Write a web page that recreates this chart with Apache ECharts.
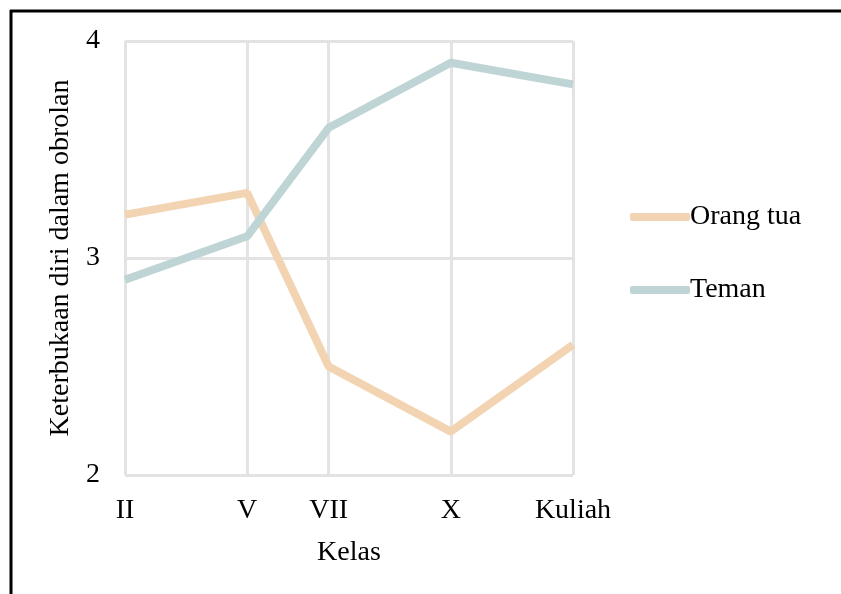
<!DOCTYPE html>
<html>
<head>
<meta charset="utf-8">
<script src="https://cdn.jsdelivr.net/npm/echarts@6/dist/echarts.min.js"></script>
<style>
  html, body { margin: 0; padding: 0; background: #fff; }
  #chart { width: 841px; height: 594px; }
</style>
</head>
<body>
<div id="chart"></div>
<script>
// grade positions on the x scale and their labels
const gradePos = [2, 5, 7, 10, 13];
const gradeLabels = ['II', 'V', 'VII', 'X', 'Kuliah'];
const parentVals = [3.2, 3.3, 2.5, 2.2, 2.6];
const friendVals = [2.9, 3.1, 3.6, 3.9, 3.8];
const yTicks = [2, 3, 4];

document.addEventListener('DOMContentLoaded', function () {
    const chart = echarts.init(document.getElementById('chart'));

    // category axis covering every step from first to last grade
    const steps = [];
    for (let p = gradePos[0]; p <= gradePos[gradePos.length - 1]; p++) steps.push(String(p));
    const labelOf = {};
    gradePos.forEach((p, i) => { labelOf[String(p)] = gradeLabels[i]; });

    function spread(vals) {
        const out = steps.map(() => null);
        gradePos.forEach((p, i) => { out[steps.indexOf(String(p))] = vals[i]; });
        return out;
    }
    const shown = (idx, val) => labelOf[val] !== undefined;

    const font = 'Liberation Serif, Times New Roman, serif';
    const fs = 28;

    chart.setOption({
        animation: false,
        textStyle: { fontFamily: font },
        grid: { left: 125, right: 268, top: 41, bottom: 119 },
        legend: {
            orient: 'vertical',
            left: 630,
            top: 203,
            padding: 0,
            itemGap: 45,
            itemWidth: 60,
            itemHeight: 8,
            icon: 'roundRect',
            textStyle: { fontFamily: font, fontSize: fs, color: '#000', padding: [0, 0, 0, -5] },
            data: ['Orang tua', 'Teman']
        },
        xAxis: {
            type: 'category',
            boundaryGap: false,
            data: steps,
            name: 'Kelas',
            nameLocation: 'middle',
            nameGap: 64,
            nameTextStyle: { fontFamily: font, fontSize: fs, color: '#000' },
            axisLine: { show: false },
            axisTick: { show: false },
            axisLabel: {
                interval: shown,
                formatter: v => labelOf[v] || '',
                fontFamily: font, fontSize: fs, color: '#000', margin: 22
            },
            splitLine: { show: true, interval: shown, lineStyle: { color: '#e3e3e3', width: 3 } }
        },
        yAxis: {
            type: 'value',
            min: yTicks[0],
            max: yTicks[yTicks.length - 1],
            interval: 1,
            name: 'Keterbukaan diri dalam obrolan',
            nameLocation: 'middle',
            nameGap: 43,
            nameTextStyle: { fontFamily: font, fontSize: fs, color: '#000' },
            axisLine: { show: false },
            axisTick: { show: false },
            axisLabel: { fontFamily: font, fontSize: fs, color: '#000', margin: 25 },
            splitLine: { lineStyle: { color: '#e3e3e3', width: 3 } }
        },
        series: [
            {
                name: 'Orang tua',
                type: 'line',
                data: spread(parentVals),
                connectNulls: true,
                symbol: 'none',
                color: '#f2d4b2',
                lineStyle: { width: 8, color: '#f2d4b2' }
            },
            {
                name: 'Teman',
                type: 'line',
                data: spread(friendVals),
                connectNulls: true,
                symbol: 'none',
                color: '#bfd5d5',
                lineStyle: { width: 8, color: '#bfd5d5' }
            }
        ],
        graphic: [
            { type: 'line', shape: { x1: 10, y1: 11, x2: 841, y2: 11 }, style: { stroke: '#000', lineWidth: 3 } },
            { type: 'line', shape: { x1: 11, y1: 10, x2: 11, y2: 594 }, style: { stroke: '#000', lineWidth: 3 } }
        ]
    });

    window.addEventListener('resize', function () {
        chart.resize();
    });
});
</script>
</body>
</html>
